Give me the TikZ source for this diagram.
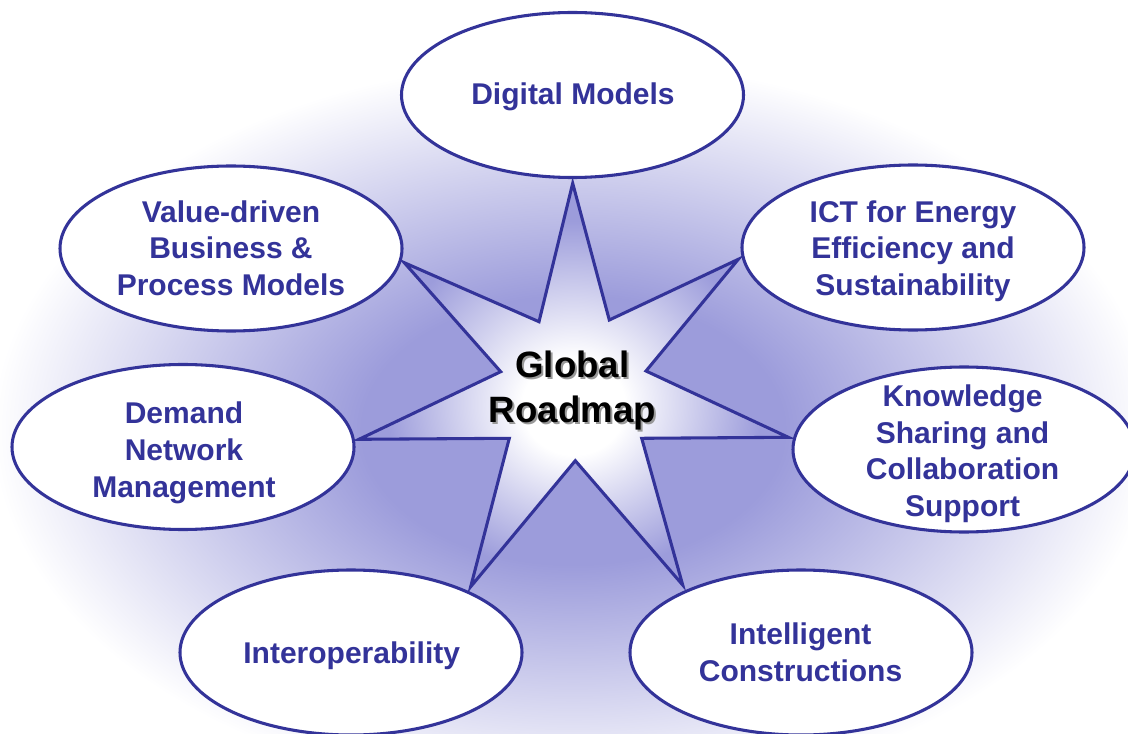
\documentclass[tikz,border=0pt]{standalone}
\usepackage{fontspec}
\setmainfont{Liberation Sans}
\usetikzlibrary{shapes.geometric}
\definecolor{navy}{RGB}{51,51,153}
\definecolor{glow}{RGB}{156,156,219}
\pgfdeclareradialshading{bgglow}{\pgfpoint{0bp}{0bp}}{color(0bp)=(glow); color(8bp)=(glow); color(22bp)=(white); color(50bp)=(white)}
\pgfdeclareradialshading{starglow}{\pgfpoint{0bp}{-3bp}}{color(0bp)=(white); color(6bp)=(white); color(22bp)=(glow); color(50bp)=(glow)}
\tikzset{
  bubble/.style={ellipse, draw=navy, line width=2.3pt, fill=white, minimum width=256.5pt, minimum height=123.75pt, inner sep=0pt},
  bubtext/.style={text=navy, font=\fontsize{22.5}{27.5}\selectfont\bfseries, align=center, inner sep=0pt},
  hubtext/.style={font=\fontsize{27.5}{33.75}\selectfont\bfseries, align=center, inner sep=0pt},
  starline/.style={draw=navy, line width=2.3pt, shading=starglow}
}
\begin{document}
\begin{tikzpicture}[x=0.75pt,y=-0.75pt]
\useasboundingbox (0,0) rectangle (1128,734);
\fill[white] (0,0) rectangle (1128,734);
\shade[shading=bgglow] (573,430) ellipse [x radius=660, y radius=420];
\shadedraw[starline] (572.7,183.3) -- (609.3,320) -- (738.3,259.3) -- (646,371) -- (788.3,437.3) -- (641.7,438.3) -- (682.7,585) -- (575.3,460.7) -- (470.7,586.7) -- (509.3,438.3) -- (359,439.3) -- (500.7,371.7) -- (404.3,262.7) -- (539,321.7) -- cycle;
\node[bubble] (dm) at (572.5,95) {};
\node[bubble] (vd) at (231,248.5) {};
\node[bubble] (ict) at (913,247.5) {};
\node[bubble] (dn) at (183,447) {};
\node[bubble] (ks) at (964,449.5) {};
\node[bubble] (io) at (351,652.5) {};
\node[bubble] (ic) at (801,652.5) {};
\node[bubtext] (dmt) at (573,97) {Digital Models};
\node[bubtext] (vdt) at (231,248.2) {Value-driven\\Business \&\\Process Models};
\node[bubtext] (ictt) at (913,251.2) {ICT for Energy\\Efficiency and\\Sustainability};
\node[bubtext] (dnt) at (184,452.8) {Demand\\Network\\Management};
\node[bubtext] (kst) at (962.5,453.8) {Knowledge\\Sharing and\\Collaboration\\Support};
\node[bubtext] (iot) at (351.7,655.3) {Interoperability};
\node[bubtext] (ict2) at (800.5,652.3) {Intelligent\\Constructions};
\node[hubtext, text=black!40] (hubs) at (574.5,393) {Global\\Roadmap};
\node[hubtext] (hub) at (572.5,391) {Global\\Roadmap};
\end{tikzpicture}
\end{document}
